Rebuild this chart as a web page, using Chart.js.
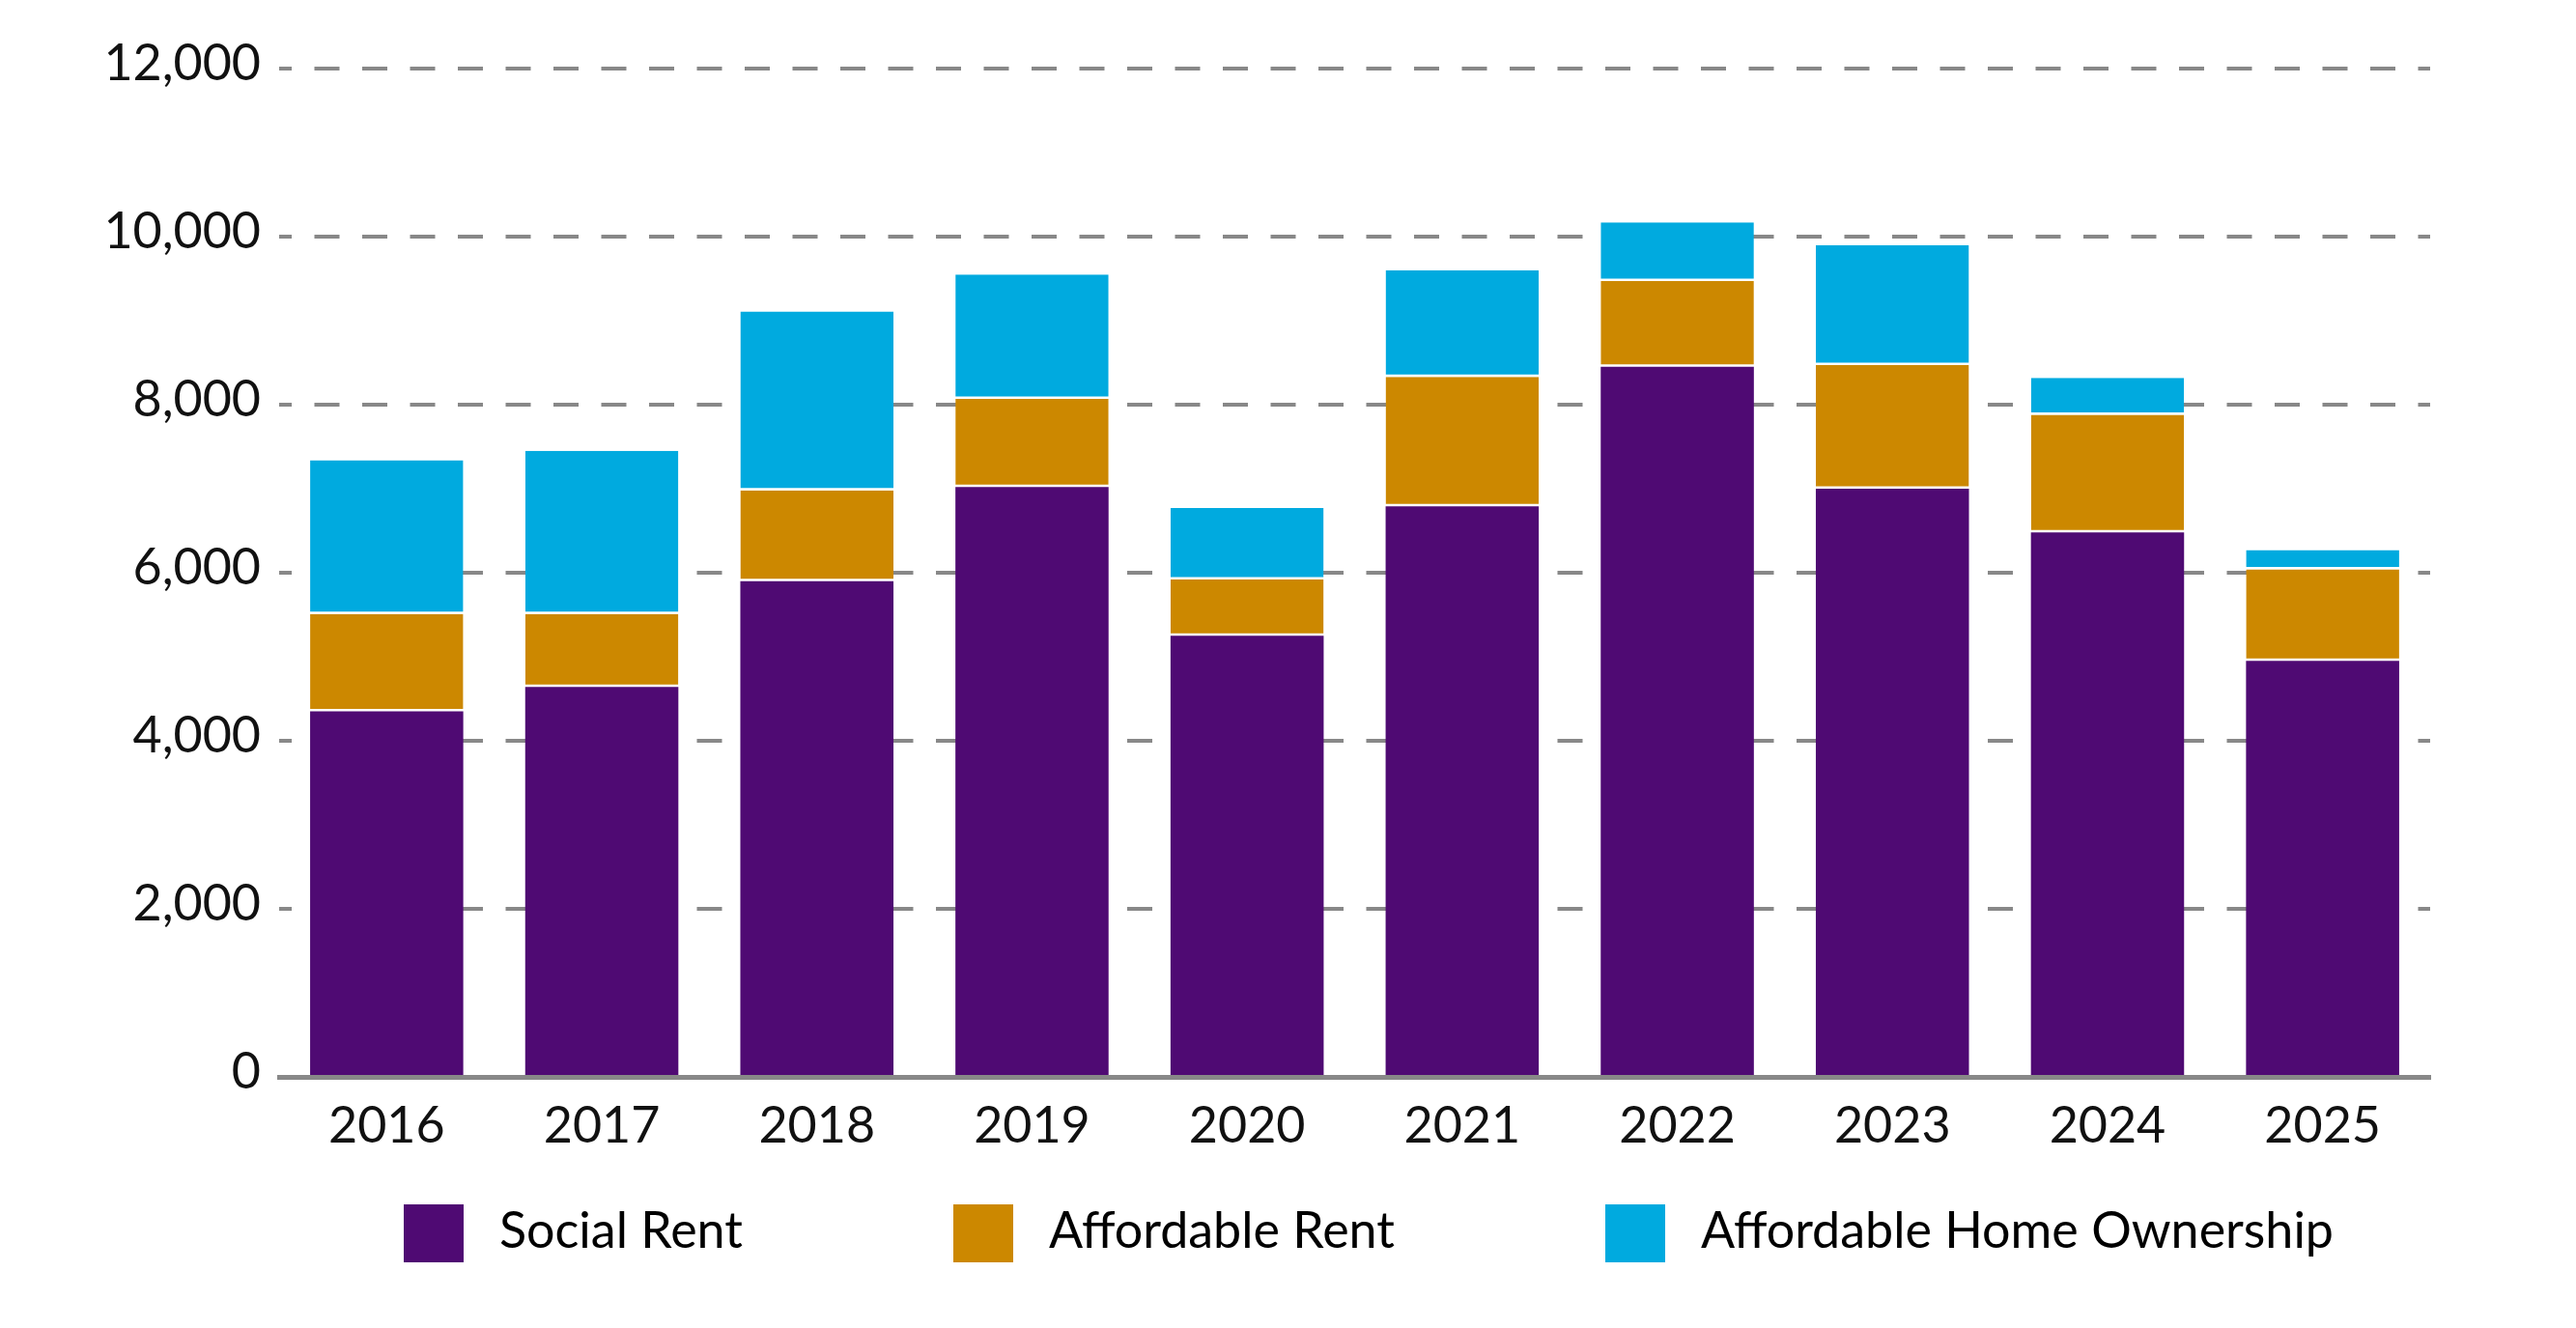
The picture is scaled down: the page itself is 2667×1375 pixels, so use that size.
<!DOCTYPE html>
<html>
<head>
<meta charset="utf-8">
<title>Completions by tenure</title>
<script src="https://cdn.jsdelivr.net/npm/chart.js@4.4.1/dist/chart.umd.min.js"></script>
<style>
  html, body { margin: 0; padding: 0; background: #fff; }
  #wrap { position: relative; width: 2667px; height: 1375px; }
  #legend { position: absolute; left: 418px; top: 1247px; display: flex; font-family: Lato, sans-serif; font-size: 52px; color: #000; }
  .item { display: flex; align-items: center; margin-right: 218px; height: 60px; }
  .box { width: 62px; height: 60px; margin-right: 37px; }
  .label { position: relative; top: -5px; line-height: 60px; white-space: nowrap; }
</style>
</head>
<body>
<div id="wrap">
  <canvas id="myCanvas" width="2667" height="1375"></canvas>
  <div id="legend"></div>
</div>
<script>
'use strict'

var years = ["2016", "2017", "2018", "2019", "2020", "2021", "2022", "2023", "2024", "2025"]
var socialRent = [4350, 4640, 5900, 7020, 5250, 6790, 8450, 7000, 6480, 4950]
var affordableRent = [1160, 870, 1080, 1050, 670, 1540, 1020, 1470, 1400, 1090]
var homeOwnership = [1830, 1940, 2130, 1480, 850, 1270, 700, 1430, 440, 230]
var seriesNames = ["Social Rent", "Affordable Rent", "Affordable Home Ownership"]
var seriesColours = ["#4f0a73", "#cc8800", "#00aadf"]
var yMax = 12000
var yStep = 2000

var canvas = document.getElementById("myCanvas")
var ctx = canvas.getContext("2d")
var legendDiv = document.getElementById("legend")

Chart.defaults.font.family = "Lato, sans-serif"
Chart.defaults.font.size = 52
Chart.defaults.color = "#111"

function makeDataset(i, values){
    var ds = {
        label: seriesNames[i],
        data: values,
        backgroundColor: seriesColours[i],
        borderColor: "#ffffff",
        borderWidth: 0,
        borderSkipped: false
    }
    // thin white line between stacked pieces
    if(i > 0){
        ds.borderWidth = {top: 0, right: 0, bottom: 2.5, left: 0}
    }
    return ds
}

// html legend built from the chart's own datasets
var htmlLegend = {
    id: "htmlLegend",
    afterUpdate: function(chart){
        legendDiv.innerHTML = ""
        chart.data.datasets.forEach(function(ds){
            var item = document.createElement("div")
            item.className = "item"
            var box = document.createElement("span")
            box.className = "box"
            box.style.background = ds.backgroundColor
            var text = document.createElement("span")
            text.className = "label"
            text.textContent = ds.label
            item.appendChild(box)
            item.appendChild(text)
            legendDiv.appendChild(item)
        })
    }
}

new Chart(ctx, {
    type: "bar",
    data: {
        labels: years,
        datasets: [
            makeDataset(0, socialRent),
            makeDataset(1, affordableRent),
            makeDataset(2, homeOwnership)
        ]
    },
    options: {
        responsive: false,
        animation: false,
        devicePixelRatio: 1,
        barPercentage: 0.712,
        categoryPercentage: 1.0,
        layout: {
            padding: {top: 71, right: 151, bottom: 160, left: 0}
        },
        plugins: {
            legend: {display: false},
            tooltip: {enabled: false}
        },
        scales: {
            x: {
                stacked: true,
                z: 1,
                grid: {display: false, drawTicks: false},
                border: {display: true, color: "#888888", width: 5},
                ticks: {padding: 20, color: "#111"},
                afterFit: function(scale){
                    scale.height = 100
                }
            },
            y: {
                stacked: true,
                min: 0,
                max: yMax,
                grid: {color: "#888888", lineWidth: 4, drawTicks: false},
                border: {display: false, dash: [26, 23.5], dashOffset: 13},
                ticks: {stepSize: yStep, padding: 19, labelOffset: -5, color: "#111"},
                afterFit: function(scale){
                    scale.width = 289
                }
            }
        }
    },
    plugins: [htmlLegend]
})
</script>
</body>
</html>
